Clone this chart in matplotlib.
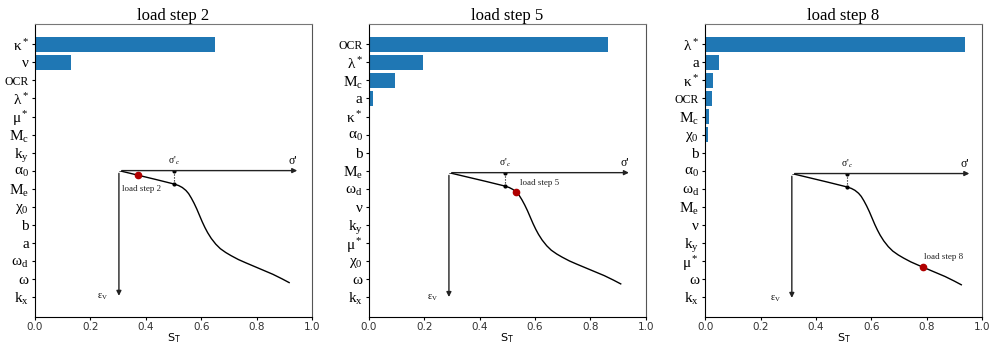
import matplotlib
matplotlib.use("Agg")
import matplotlib.pyplot as plt

plt.rcParams['mathtext.fontset'] = 'custom'
plt.rcParams['mathtext.rm'] = 'Liberation Serif'
plt.rcParams['mathtext.it'] = 'Liberation Serif:italic'

# sensitivity indices per load step (sorted, top to bottom)
titles = ["load step 2", "load step 5", "load step 8"]

labels_2 = ["κ$^*$", "ν", "OCR", "λ$^*$", "μ$^*$", r"M$_\mathrm{c}$", r"k$_\mathrm{y}$",
            "α$_0$", r"M$_\mathrm{e}$", "χ$_0$", "b", "a", r"ω$_\mathrm{d}$", "ω", r"k$_\mathrm{x}$"]
values_2 = [0.65, 0.13, 0.004, 0.002, 0.002, 0.002, 0.002, 0.002, 0.0015, 0.001,
            0.001, 0.001, 0.001, 0.0008, 0.0008]

labels_5 = ["OCR", "λ$^*$", r"M$_\mathrm{c}$", "a", "κ$^*$", "α$_0$", "b", r"M$_\mathrm{e}$",
            r"ω$_\mathrm{d}$", "ν", r"k$_\mathrm{y}$", "μ$^*$", "χ$_0$", "ω", r"k$_\mathrm{x}$"]
values_5 = [0.863, 0.194, 0.094, 0.015, 0.004, 0.004, 0.001, 0.001, 0.001, 0.0008,
            0.0008, 0.0008, 0.0005, 0.0005, 0.0005]

labels_8 = ["λ$^*$", "a", "κ$^*$", "OCR", r"M$_\mathrm{c}$", "χ$_0$", "b", "α$_0$",
            r"ω$_\mathrm{d}$", r"M$_\mathrm{e}$", "ν", r"k$_\mathrm{y}$", "μ$^*$", "ω", r"k$_\mathrm{x}$"]
values_8 = [0.939, 0.049, 0.027, 0.024, 0.014, 0.01, 0.001, 0.001, 0.001, 0.001,
            0.0008, 0.0008, 0.0008, 0.0005, 0.0005]

# compression curve sketch (sigma' fraction, eps_v fraction)
curve_u = [0, 0.1, 0.2, 0.305, 0.33, 0.35, 0.37, 0.385, 0.40, 0.415, 0.43, 0.445,
           0.46, 0.475, 0.49, 0.51, 0.535, 0.56, 0.59, 0.62, 0.66, 0.70, 0.75,
           0.80, 0.85, 0.90, 0.94]
curve_v = [0, 0.034, 0.068, 0.105, 0.117, 0.132, 0.155, 0.18, 0.215, 0.255, 0.30,
           0.35, 0.40, 0.445, 0.485, 0.53, 0.575, 0.61, 0.64, 0.665, 0.695, 0.72,
           0.75, 0.78, 0.81, 0.845, 0.875]
sigma_c_u = 0.305
sigma_c_v = 0.105

# current state marker on the curve, one per load step
marker_u = [0.105, 0.366, 0.726]
marker_v = [0.036, 0.15, 0.735]
text_pos = [(0.015, 0.145), (0.39, 0.08), (0.735, 0.66)]

all_labels = [labels_2, labels_5, labels_8]
all_values = [values_2, values_5, values_8]

# inset positions in axes fraction
inset_boxes = [[0.303, 0.064, 0.654, 0.436],
               [0.289, 0.060, 0.660, 0.433],
               [0.313, 0.057, 0.651, 0.433]]
lefts = [0.0354, 0.373, 0.713]

fig = plt.figure(figsize=(9.89, 3.45), dpi=100)

for i in range(3):
    ax = fig.add_axes([lefts[i], 0.08, 0.280, 0.851])
    ypos = list(range(len(all_labels[i])))
    ax.barh(ypos, all_values[i], color="#1f77b4", height=0.8)
    ax.set_yticks(ypos)
    ax.set_yticklabels(all_labels[i], fontsize=11, family="Liberation Serif")
    for t in ax.get_yticklabels():
        if t.get_text() == "OCR":
            t.set_fontsize(8.5)
    ax.invert_yaxis()
    ax.set_xlim(0, 1)
    ax.tick_params(axis="y", length=2.5, pad=2)
    ax.tick_params(axis="x", labelsize=7.5, labelcolor="#333333", length=2, pad=1.5)
    ax.set_xlabel("S$_\\mathrm{T}$", fontsize=8, family="DejaVu Sans",
                  math_fontfamily="dejavusans", labelpad=-1)
    ax.set_title(titles[i], fontsize=12, family="Liberation Serif", pad=3)
    ax.spines["top"].set_color("#777777")
    ax.spines["right"].set_color("#555555")

    # inset sketch of the compression curve
    ins = ax.inset_axes(inset_boxes[i])
    ins.set_xlim(0, 1)
    ins.set_ylim(1, 0)
    ins.set_xticks([])
    ins.set_yticks([])
    ins.set_axis_off()
    ins.annotate("", xy=(1, 0), xytext=(0, 0),
                 arrowprops=dict(arrowstyle="-|>", color="#222222", lw=1, mutation_scale=7))
    ins.annotate("", xy=(0, 1), xytext=(0, 0),
                 arrowprops=dict(arrowstyle="-|>", color="#222222", lw=1, mutation_scale=7))
    ins.plot(curve_u, curve_v, color="black", lw=1)
    ins.plot([sigma_c_u, sigma_c_u], [0, sigma_c_v], color="black", lw=0.8, ls=":")
    ins.plot([sigma_c_u, sigma_c_u], [0, sigma_c_v], "o", color="black", ms=2)
    ins.text(sigma_c_u, -0.03, "σ$'_c$", ha="center", va="bottom", fontsize=7,
             family="Liberation Serif")
    ins.text(0.985, -0.03, "σ'", ha="right", va="bottom", fontsize=8.5,
             family="Liberation Serif")
    ins.text(-0.06, 0.985, "ε$_\\mathrm{V}$", ha="right", va="center", fontsize=7,
             family="Liberation Serif")
    ins.plot(marker_u[i], marker_v[i], "o", color="#b00000", ms=4.5)
    ins.text(text_pos[i][0], text_pos[i][1], titles[i], ha="left", va="center",
             fontsize=6.5, family="Liberation Serif", color="#222222")

plt.savefig("out.png", dpi=100)
